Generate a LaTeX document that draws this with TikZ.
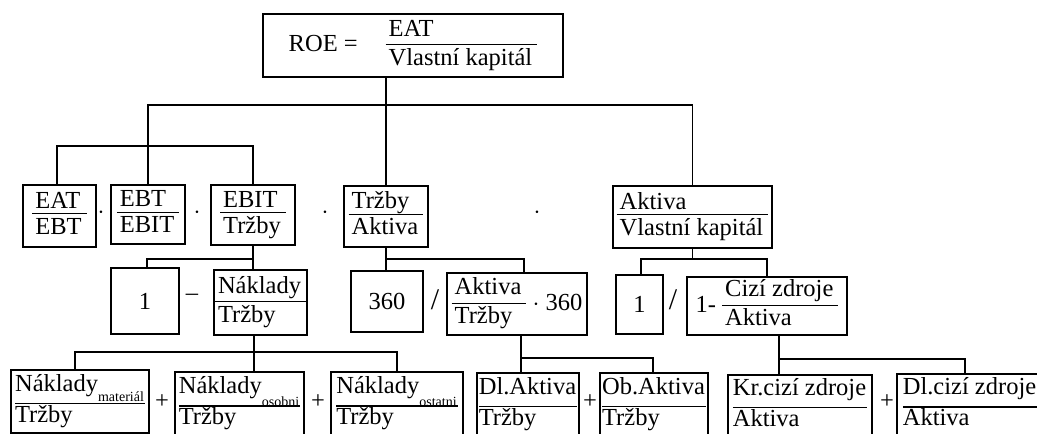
\documentclass[tikz,border=0pt]{standalone}
\usepackage{fontspec}
\setmainfont{Liberation Serif}
\setlength{\arrayrulewidth}{1.1pt}
% fraction with the bar under the numerator
\newcommand{\frc}[3][0pt]{\begin{tabular}{@{\hspace{3pt}}l@{\hspace{5pt}}}#2\\[#1]\hline\rule{0pt}{20pt}#3\end{tabular}}
\newcommand{\frl}[2]{\begin{tabular}{@{}l@{\hspace{1pt}}}#1\\[4pt]\hline\rule{0pt}{18pt}#2\end{tabular}}
\newcommand{\lowsub}[2][10pt]{\raisebox{-#1}[0pt][0pt]{\fontsize{14}{14}\selectfont #2}}
\begin{document}
\begin{tikzpicture}[x=1pt, y=-1pt, line width=1.1pt,
  every node/.style = {inner sep=0pt, font=\fontsize{24.5}{26}\selectfont},
  box/.style = {draw, rectangle}]
  \useasboundingbox (0,0) rectangle (1037,434);

  \node[box, minimum width=300, minimum height=63] (roe) at (413,45.5)
    {ROE =\hspace{28pt}\frc{EAT}{Vlastní kapitál}};

  % second row
  \node[box, minimum width=73, minimum height=62] (eatebt) at (59.5,216) {\frc[-3pt]{EAT}{EBT}};
  \node[box, minimum width=74, minimum height=59] (ebtebit) at (148,214.5) {\frc[-3pt]{EBT}{EBIT}};
  \node[box, minimum width=84, minimum height=60] (ebittrzby) at (253,215) {\frc[-3pt]{EBIT}{Tržby}};
  \node[box, minimum width=84, minimum height=61] (trzbyaktiva) at (386,216.5) {\frc[-3pt]{Tržby}{Aktiva}};
  \node[box, minimum width=159, minimum height=62] (aktivavk) at (692.5,217) {\frc[-3pt]{Aktiva}{Vlastní kapitál}};
  \node (dot1) at (101,213) {$\cdot$};
  \node (dot2) at (197,213) {$\cdot$};
  \node (dot3) at (325,213) {$\cdot$};
  \node (dot4) at (537,213) {$\cdot$};

  % third row
  \node[box, minimum width=68, minimum height=66] (one1) at (145,301) {1};
  \node (minus) at (192,297) {–};
  \node[box, minimum width=93, minimum height=65] (naklady) at (260.5,302.5) {\frc{Náklady}{Tržby}};
  \node[box, minimum width=72, minimum height=61] (n360) at (387,301.5) {360};
  \node[font=\fontsize{30}{30}\selectfont] (slash1) at (435,300) {/};
  \node[box, minimum width=140, minimum height=62] (aktivatrzby) at (517,304) {\frc{Aktiva}{Tržby} $\cdot$ 360};
  \node[box, minimum width=47, minimum height=59] (one2) at (639.5,304.5) {1};
  \node[font=\fontsize{30}{30}\selectfont] (slash2) at (673,300) {/};
  \node[box, minimum width=160, minimum height=58] (cizi) at (767,306) {1- \frc{Cizí zdroje}{Aktiva}};

  % fourth row
  \node[box, minimum width=138, minimum height=63] (nmat) at (80,401.5) {\frl{Náklady\lowsub{materiál}}{Tržby}};
  \node[box, minimum width=129, minimum height=64] (nos) at (239.5,404) {\frl{Náklady\lowsub[13pt]{osobni}}{Tržby}};
  \node[box, minimum width=132, minimum height=64] (nost) at (397,404) {\frl{Náklady\lowsub[13pt]{ostatni}}{Tržby}};
  \node[box, minimum width=102, minimum height=63] (dlakt) at (528,404.5) {\frl{Dl.Aktiva}{Tržby}};
  \node[box, minimum width=108, minimum height=63] (obakt) at (654,404.5) {\frl{Ob.Aktiva}{Tržby}};
  \node[box, minimum width=144, minimum height=61] (krcizi) at (800,405.5) {\frl{Kr.cizí zdroje}{Aktiva}};
  \node[box, minimum width=146, minimum height=62] (dlcizi) at (970,405) {\frl{Dl.cizí zdroje}{Aktiva}};
  \node (plus1) at (162,402) {+};
  \node (plus2) at (318,402) {+};
  \node (plus3) at (590,402) {+};
  \node (plus4) at (887,402) {+};

  % connectors
  \coordinate (bus1) at (0,105);
  \coordinate (bus2) at (0,146);
  \coordinate (bus3) at (0,259);
  \coordinate (bus4) at (0,352);
  \coordinate (bus5) at (0,358);
  \coordinate (bus6) at (0,359);
  \draw (roe.south -| trzbyaktiva.north) -- (trzbyaktiva.north);
  \draw (ebtebit.north) |- (bus1 -| aktivavk.north) -- (aktivavk.north);
  \draw ([xshift=-2.5]eatebt.north) |- (bus2 -| ebittrzby.north) -- (ebittrzby.north);
  \draw (ebittrzby.south) -- (ebittrzby.south |- naklady.north);
  \draw (ebittrzby.south |- bus3) -| ([xshift=2]one1.north);
  \draw (trzbyaktiva.south) -- (trzbyaktiva.south |- n360.north);
  \draw (trzbyaktiva.south |- bus3) -| ([xshift=7]aktivatrzby.north);
  \draw (aktivavk.south) -- (aktivavk.south |- bus3);
  \draw ([xshift=1.5]one2.north) |- (bus3 -| cizi.north) -- (cizi.north);
  \draw ([xshift=-6.5]naklady.south) -- ([xshift=-6.5]naklady.south |- nos.north);
  \draw ([xshift=-5]nmat.north) |- (bus4 -| nost.north) -- (nost.north);
  \draw ([xshift=4]aktivatrzby.south) -- ([xshift=4]aktivatrzby.south |- dlakt.north);
  \draw ([xshift=4]aktivatrzby.south |- bus5) -| ([xshift=-1]obakt.north);
  \draw ([xshift=12]cizi.south) -- ([xshift=12]cizi.south |- krcizi.north);
  \draw ([xshift=12]cizi.south |- bus6) -| ([xshift=-5]dlcizi.north);
\end{tikzpicture}
\end{document}
